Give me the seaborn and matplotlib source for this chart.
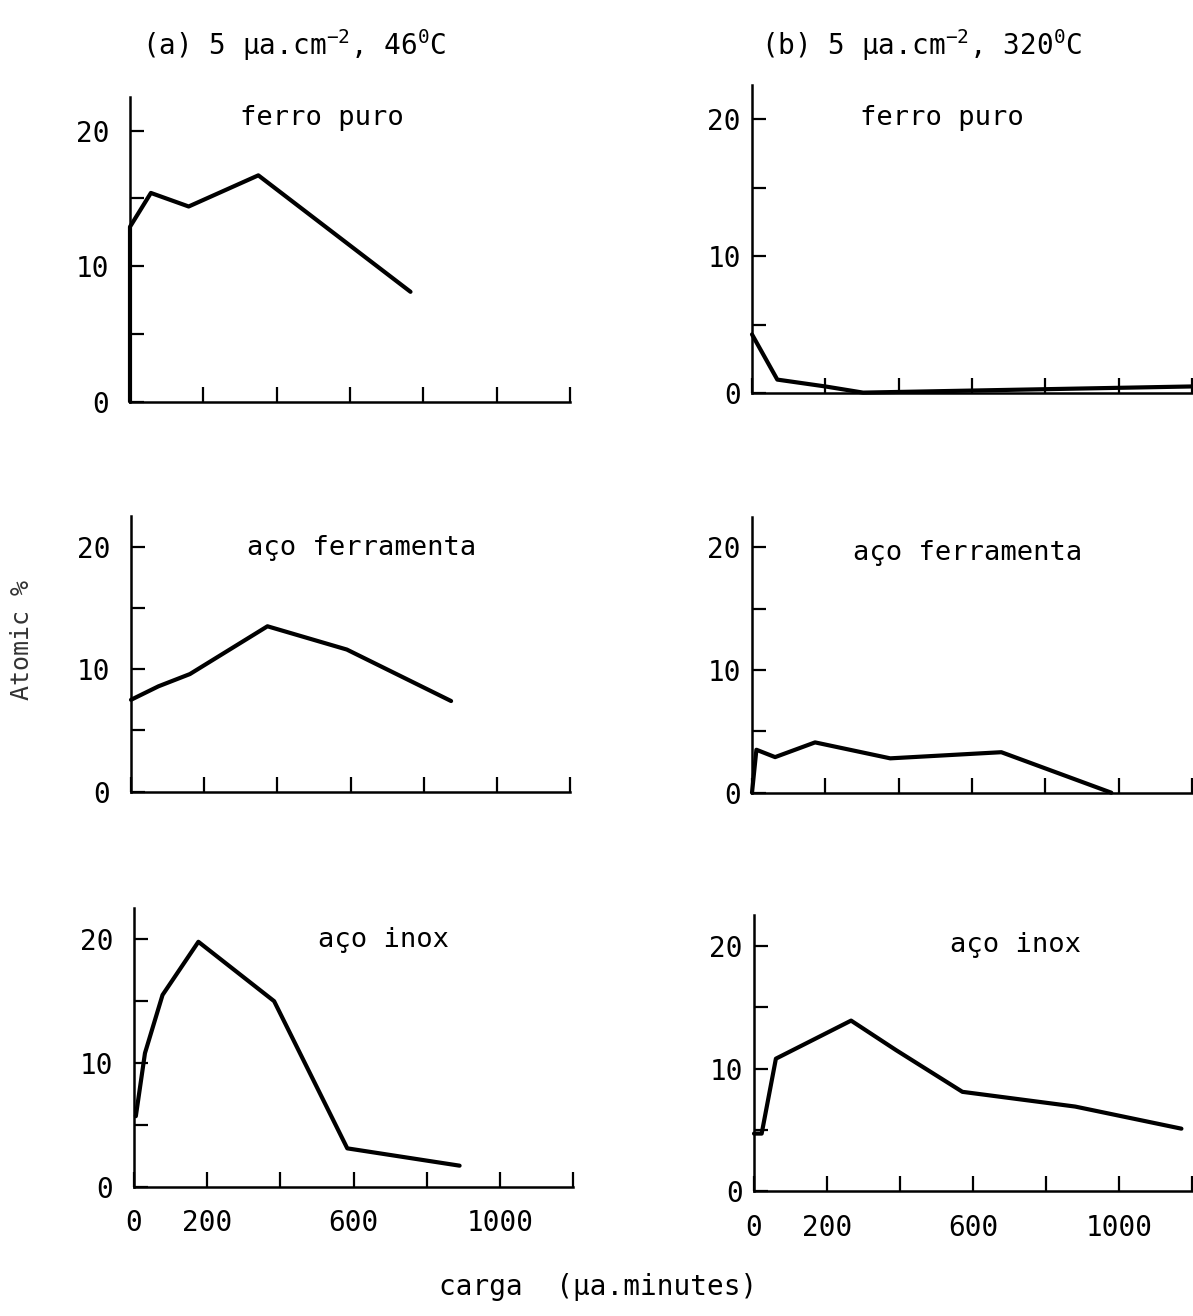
import matplotlib
matplotlib.use("Agg")
import matplotlib.pyplot as plt
import seaborn as sns
import pandas as pd

# ---------------- data ----------------
col_titles = [r"(a) 5 μa.cm$^{-2}$, 46$^{0}$C", r"(b) 5 μa.cm$^{-2}$, 320$^{0}$C"]
materials = ["ferro puro", "aço ferramenta", "aço inox"]

# column (a) 46 C
ferro_a_x = [0, 0, 57, 160, 350, 765]
ferro_a_y = [0, 12.9, 15.4, 14.4, 16.7, 8.1]
ferr_a_x = [0, 75, 161, 373, 590, 875]
ferr_a_y = [7.5, 8.6, 9.6, 13.5, 11.6, 7.4]
inox_a_x = [5, 30, 78, 176, 383, 583, 890]
inox_a_y = [5.7, 10.8, 15.5, 19.8, 15.0, 3.1, 1.7]

# column (b) 320 C
ferro_b_x = [0, 69, 200, 303, 600, 900, 1200]
ferro_b_y = [4.3, 1.0, 0.5, 0.05, 0.2, 0.35, 0.5]
ferr_b_x = [0, 12, 63, 172, 377, 680, 980]
ferr_b_y = [0, 3.5, 2.9, 4.1, 2.8, 3.3, 0.0]
inox_b_x = [0, 21, 60, 266, 389, 571, 880, 1171]
inox_b_y = [4.7, 4.7, 10.8, 13.9, 11.5, 8.1, 6.9, 5.1]

x_ticks = [0, 200, 400, 600, 800, 1000, 1200]
x_ticklabels = ["0", "200", "", "600", "", "1000", ""]
y_major = [0, 10, 20]
y_minor = [5, 15]
ylabel = "Atomic %"
xlabel = "carga  (μa.minutes)"

# ---------------- style ----------------
sns.set_style("ticks")
plt.rcParams["font.family"] = ["DejaVu Sans Mono", "DejaVu Sans"]
plt.rcParams["mathtext.fontset"] = "custom"
plt.rcParams["mathtext.rm"] = "DejaVu Sans Mono"
plt.rcParams["mathtext.it"] = "DejaVu Sans Mono"
plt.rcParams["mathtext.bf"] = "DejaVu Sans Mono"
plt.rcParams["text.color"] = "black"

W, H = 1193, 1316
fig = plt.figure(figsize=(W / 100, H / 100), dpi=100)
fig.patch.set_facecolor("white")


def px_axes(left, top, right, bottom):
    return fig.add_axes([left / W, 1 - bottom / H, (right - left) / W, (bottom - top) / H])


panels = [
    # left, top, right, bottom, x, y, label, label pos (px), column, bottom row?
    (130, 96.8, 570, 401.5, ferro_a_x, ferro_a_y, materials[0], (322, 118), 0, False),
    (131, 516, 570, 791.7, ferr_a_x, ferr_a_y, materials[1], (362, 548), 0, False),
    (134, 908.4, 573, 1186.7, inox_a_x, inox_a_y, materials[2], (383, 940), 0, True),
    (752, 85, 1192, 393.3, ferro_b_x, ferro_b_y, materials[0], (942, 118), 1, False),
    (752, 516.6, 1192, 792.7, ferr_b_x, ferr_b_y, materials[1], (968, 553), 1, False),
    (754, 915, 1192, 1191.3, inox_b_x, inox_b_y, materials[2], (1015, 945), 1, True),
]

for (l, t, r, b, xs, ys, lab, lpos, col, bottom_row) in panels:
    ax = px_axes(l, t, r, b)
    ax.set_facecolor("white")
    df = pd.DataFrame({"x": xs, "y": ys})
    sns.lineplot(data=df, x="x", y="y", ax=ax, estimator=None, sort=False,
                 color="black", linewidth=3.0, clip_on=False)
    ax.set_xlim(0, 1200)
    ax.set_ylim(0, 22.5)
    for s in ["top", "right"]:
        ax.spines[s].set_visible(False)
    for s in ["left", "bottom"]:
        ax.spines[s].set_linewidth(1.8)
        ax.spines[s].set_color("black")
    ax.set_yticks(y_major)
    ax.set_yticks(y_minor, minor=True)
    ax.set_yticklabels([str(v) for v in y_major])
    ax.set_xticks(x_ticks)
    if bottom_row:
        ax.set_xticklabels(x_ticklabels)
    else:
        ax.set_xticklabels([""] * len(x_ticks))
    ypad = 15 if col == 0 else 8
    ax.tick_params(axis="y", which="both", direction="in", length=10, width=1.6,
                   labelsize=20, pad=ypad, colors="black")
    ax.tick_params(axis="x", which="both", direction="in", length=11, width=1.6,
                   labelsize=20, pad=16, colors="black")
    ax.set_xlabel("")
    ax.set_ylabel("")
    fig.text(lpos[0] / W, 1 - lpos[1] / H, lab, ha="center", va="center",
             fontsize=19.5, color="black")

fig.text(294 / W, 1 - 45 / H, col_titles[0], ha="center", va="center", fontsize=20, color="black")
fig.text(922 / W, 1 - 45 / H, col_titles[1], ha="center", va="center", fontsize=20, color="black")
fig.text(22 / W, 1 - 640 / H, ylabel, ha="center", va="center", rotation=90,
         fontsize=18, color="#333333")
fig.text(598 / W, 1 - 1287 / H, xlabel, ha="center", va="center", fontsize=20, color="black")

fig.savefig("out.png", dpi=100, facecolor="white")
